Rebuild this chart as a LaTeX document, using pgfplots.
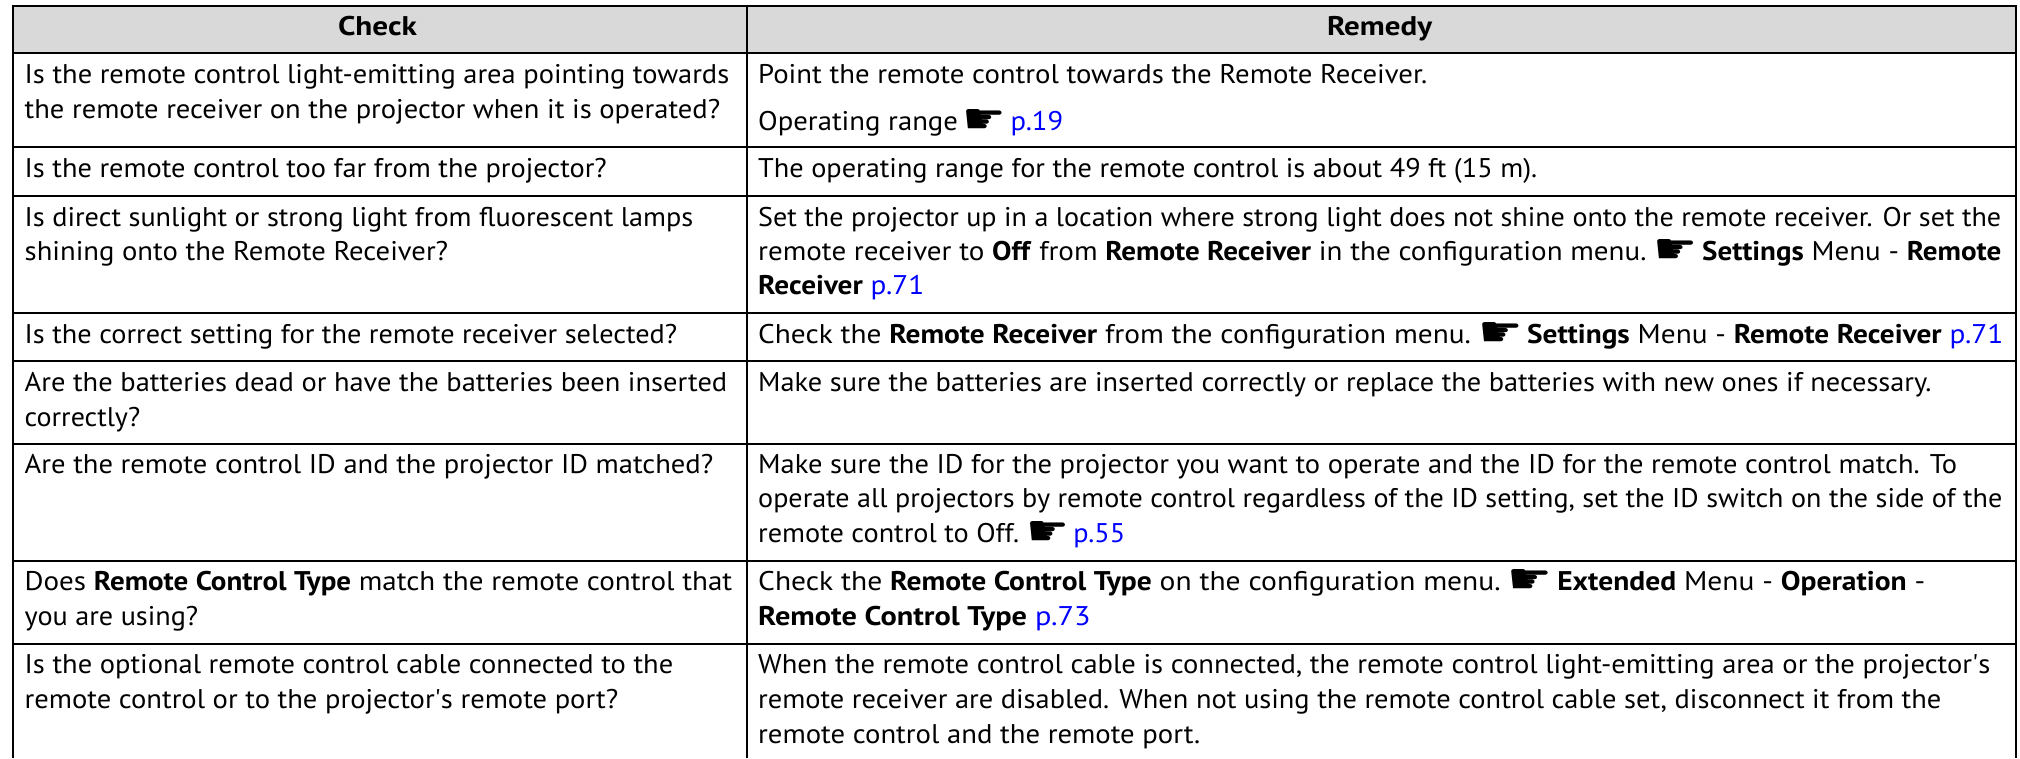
\documentclass[border=0pt]{standalone}
\usepackage{pgfplots}
\pgfplotsset{compat=1.18}
\usepackage{graphicx}
\usepackage{fontspec}
\setmainfont{PT Sans}
\newfontfamily\hand{DejaVu Sans}
\newfontfamily\apos{PT Sans}
\definecolor{hdr}{HTML}{D9D9D9}
\definecolor{lnk}{HTML}{0000FF}
\newcommand{\Hd}{\hspace{-3pt}\raisebox{-3pt}{\resizebox{41pt}{24pt}{\hand ☛}}\hspace{-3pt}}
\newcommand{\Lk}[1]{\textcolor{lnk}{#1}}
\newcommand{\B}[1]{\textbf{#1}}
% x, baseline y, width, text
\newcommand{\T}[4]{\node[anchor=base west,inner sep=0pt,font=\fontsize{27}{30}\selectfont] at (axis cs:#1,#2) {\resizebox{#3pt}{\height}{#4}};}
\newcommand{\C}[4]{\node[anchor=base,inner sep=0pt,font=\fontsize{27}{30}\selectfont\bfseries] at (axis cs:#1,#2) {\resizebox{#3pt}{\height}{#4}};}
\begin{document}
\begin{tikzpicture}
\begin{axis}[scale only axis,width=2020pt,height=758pt,xmin=0,xmax=2020,ymin=0,ymax=758,y dir=reverse,hide axis,clip=true]
\addplot[fill=white,draw=none] coordinates {(0,0)(2020,0)(2020,758)(0,758)} -- cycle;
\addplot[fill=hdr,draw=none] coordinates {(13,6)(2016,6)(2016,53)(13,53)} -- cycle;
\addplot[black,line width=2pt] coordinates {(13,6)(2016,6)};
\addplot[black,line width=2pt] coordinates {(13,53)(2016,53)};
\addplot[black,line width=2pt] coordinates {(13,147)(2016,147)};
\addplot[black,line width=2pt] coordinates {(13,196)(2016,196)};
\addplot[black,line width=2pt] coordinates {(13,313)(2016,313)};
\addplot[black,line width=2pt] coordinates {(13,361)(2016,361)};
\addplot[black,line width=2pt] coordinates {(13,444)(2016,444)};
\addplot[black,line width=2pt] coordinates {(13,561)(2016,561)};
\addplot[black,line width=2pt] coordinates {(13,644)(2016,644)};
\addplot[black,line width=2pt] coordinates {(13,5)(13,758)};
\addplot[black,line width=1.5pt] coordinates {(747,5)(747,758)};
\addplot[black,line width=2pt] coordinates {(2016,5)(2016,758)};
\C{377.5}{35}{79}{Check}
\C{1379.5}{35}{105}{Remedy}
\T{24.5}{83}{704.5}{Is the remote control light-emitting area pointing towards}
\T{24.5}{118}{695.5}{the remote receiver on the projector when it is operated?}
\T{24.5}{177}{582}{Is the remote control too far from the projector?}
\T{24.5}{226}{668.5}{Is direct sunlight or strong light from fluorescent lamps}
\T{24.5}{260}{423.5}{shining onto the Remote Receiver?}
\T{24.5}{343}{652.5}{Is the correct setting for the remote receiver selected?}
\T{24.5}{391}{702.5}{Are the batteries dead or have the batteries been inserted}
\T{24.5}{426}{115.5}{correctly?}
\T{24.5}{473}{688.5}{Are the remote control ID and the projector ID matched?}
\T{24.5}{590}{707.5}{Does \B{Remote Control Type} match the remote control that}
\T{24.5}{625}{173.5}{you are using?}
\T{24.5}{673}{648.5}{Is the optional remote control cable connected to the}
\T{24.5}{708}{593.5}{remote control or to the projector{\apos '}s remote port?}
\T{758}{83}{669}{Point the remote control towards the Remote Receiver.}
\T{758}{130}{305}{Operating range \Hd{} \Lk{p.19}}
\T{758}{177}{779}{The operating range for the remote control is about 49 ft (15 m).}
\T{758}{226}{1243}{Set the projector up in a location where strong light does not shine onto the remote receiver. Or set the}
\T{758}{260}{1243}{remote receiver to \B{Off} from \B{Remote Receiver} in the configuration menu. \Hd{} \B{Settings} Menu - \B{Remote}}
\T{758}{294}{166}{\B{Receiver} \Lk{p.71}}
\T{758}{343}{1245}{Check the \B{Remote Receiver} from the configuration menu. \Hd{} \B{Settings} Menu - \B{Remote Receiver} \Lk{p.71}}
\T{758}{391}{1173}{Make sure the batteries are inserted correctly or replace the batteries with new ones if necessary.}
\T{758}{473}{1199}{Make sure the ID for the projector you want to operate and the ID for the remote control match. To}
\T{758}{507}{1244}{operate all projectors by remote control regardless of the ID setting, set the ID switch on the side of the}
\T{758}{542}{367}{remote control to Off. \Hd{} \Lk{p.55}}
\T{758}{590}{1167}{Check the \B{Remote Control Type} on the configuration menu. \Hd{} \B{Extended} Menu - \B{Operation} -}
\T{758}{625}{332.5}{\B{Remote Control Type} \Lk{p.73}}
\T{758}{673}{1232}{When the remote control cable is connected, the remote control light-emitting area or the projector{\apos '}s}
\T{758}{708}{1183}{remote receiver are disabled. When not using the remote control cable set, disconnect it from the}
\T{758}{743}{442}{remote control and the remote port.}
\end{axis}
\end{tikzpicture}
\end{document}
